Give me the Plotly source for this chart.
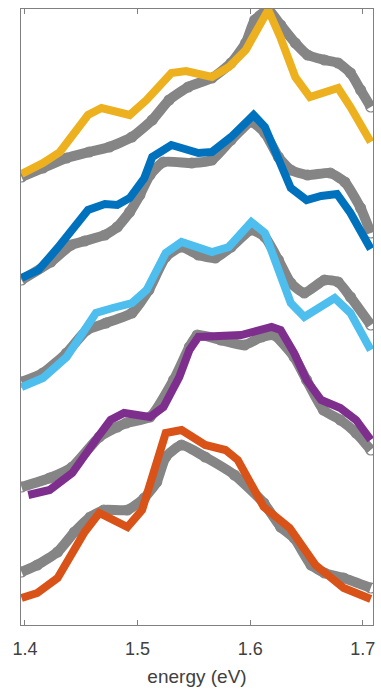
import plotly.graph_objects as go

# ---- data (energy in eV, intensity in arbitrary units incl. vertical offsets) ----
E_fit1 = [1.397,1.416,1.431,1.456,1.468,1.493,1.508,1.530,1.543,1.566,1.581,1.596,1.616,1.627,1.640,1.653,1.678,1.689,1.707]
I_fit1 = [4.51,4.62,4.73,5.10,5.17,5.10,5.25,5.52,5.54,5.48,5.58,5.75,6.15,5.87,5.48,5.28,5.37,5.18,4.83]
E_dat1 = [1.397,1.416,1.437,1.457,1.475,1.495,1.513,1.528,1.545,1.566,1.583,1.596,1.604,1.616,1.627,1.640,1.651,1.666,1.678,1.689,1.698,1.707]
I_dat1 = [4.48,4.57,4.67,4.73,4.78,4.88,5.05,5.25,5.38,5.47,5.62,5.82,6.05,6.15,6.00,5.82,5.70,5.65,5.62,5.52,5.35,5.18]

E_fit2 = [1.397,1.412,1.429,1.456,1.471,1.482,1.493,1.506,1.513,1.530,1.554,1.566,1.583,1.603,1.613,1.625,1.636,1.650,1.663,1.677,1.689,1.707]
I_fit2 = [3.47,3.55,3.77,4.15,4.21,4.20,4.27,4.47,4.68,4.80,4.72,4.73,4.88,5.10,4.98,4.65,4.37,4.25,4.29,4.31,4.12,3.76]
E_dat2 = [1.397,1.423,1.441,1.453,1.471,1.482,1.493,1.502,1.511,1.523,1.548,1.566,1.583,1.601,1.613,1.625,1.636,1.651,1.671,1.684,1.698,1.707]
I_dat2 = [3.45,3.63,3.80,3.84,3.90,3.98,4.13,4.30,4.50,4.63,4.62,4.65,4.85,5.03,4.92,4.68,4.55,4.50,4.52,4.43,4.17,3.92]

E_fit3 = [1.397,1.416,1.437,1.463,1.478,1.495,1.508,1.525,1.539,1.566,1.581,1.601,1.613,1.625,1.636,1.648,1.675,1.689,1.707]
I_fit3 = [2.38,2.47,2.68,3.12,3.17,3.22,3.35,3.72,3.83,3.73,3.78,4.03,3.92,3.55,3.22,3.08,3.27,3.12,2.75]
E_dat3 = [1.397,1.416,1.437,1.455,1.472,1.495,1.510,1.525,1.539,1.554,1.569,1.583,1.601,1.613,1.625,1.636,1.648,1.666,1.678,1.689,1.707]
I_dat3 = [2.43,2.52,2.72,2.95,3.02,3.12,3.35,3.68,3.78,3.70,3.67,3.78,3.95,3.88,3.65,3.42,3.32,3.45,3.43,3.28,3.00]

E_fit4 = [1.403,1.422,1.442,1.453,1.466,1.476,1.488,1.511,1.523,1.537,1.546,1.554,1.566,1.592,1.619,1.627,1.639,1.650,1.663,1.680,1.694,1.707]
I_fit4 = [1.30,1.35,1.52,1.68,1.90,2.05,2.12,2.08,2.18,2.48,2.75,2.88,2.88,2.90,2.98,2.95,2.72,2.45,2.25,2.17,2.05,1.85]
E_dat4 = [1.397,1.422,1.442,1.466,1.482,1.490,1.511,1.532,1.546,1.553,1.574,1.595,1.610,1.621,1.639,1.650,1.665,1.680,1.694,1.707]
I_dat4 = [1.38,1.47,1.58,1.88,1.98,2.02,2.08,2.45,2.78,2.90,2.85,2.80,2.88,2.90,2.68,2.45,2.15,2.05,1.92,1.75]

E_fit5 = [1.397,1.411,1.429,1.453,1.466,1.491,1.504,1.517,1.525,1.539,1.560,1.578,1.589,1.612,1.635,1.658,1.683,1.707]
I_fit5 = [0.27,0.32,0.47,0.93,1.12,0.98,1.15,1.60,1.92,1.95,1.80,1.75,1.65,1.18,0.97,0.60,0.37,0.26]
E_dat5 = [1.397,1.411,1.429,1.444,1.458,1.470,1.491,1.506,1.517,1.525,1.539,1.560,1.586,1.612,1.627,1.639,1.654,1.666,1.683,1.707]
I_dat5 = [0.53,0.60,0.73,0.93,1.08,1.15,1.15,1.27,1.43,1.68,1.80,1.68,1.50,1.22,0.98,0.87,0.60,0.52,0.47,0.37]

fit_colors = ["#EDB120", "#0072BD", "#4DBEEE", "#7E2F8E", "#D95319"]
x_ticks = [1.4, 1.5, 1.6, 1.7]

data_sets = [(E_dat1, I_dat1), (E_dat2, I_dat2), (E_dat3, I_dat3), (E_dat4, I_dat4), (E_dat5, I_dat5)]
fit_sets = [(E_fit1, I_fit1), (E_fit2, I_fit2), (E_fit3, I_fit3), (E_fit4, I_fit4), (E_fit5, I_fit5)]

fig = go.Figure()
for ex, iy in data_sets:
    fig.add_trace(go.Scatter(
        x=ex, y=iy, mode="lines+markers",
        line=dict(color="#858585", width=10, shape="spline", smoothing=0.5),
        marker=dict(symbol="circle-open", size=10, color="#858585", line=dict(width=1.2)),
        showlegend=False, hoverinfo="skip"))
for (ex, iy), c in zip(fit_sets, fit_colors):
    fig.add_trace(go.Scatter(
        x=ex, y=iy, mode="lines",
        line=dict(color=c, width=8),
        showlegend=False, hoverinfo="skip"))

fig.update_layout(
    width=381, height=700,
    margin=dict(l=21, r=6, t=9, b=75),
    paper_bgcolor="white", plot_bgcolor="white",
    font=dict(family="Liberation Sans, Arial, sans-serif", color="#404040"),
    xaxis=dict(range=[1.3965, 1.709], tickvals=x_ticks, ticktext=[f"{v:.1f}" for v in x_ticks],
               ticks="inside", ticklen=5, tickcolor="#808080", tickwidth=1,
               showline=True, linecolor="#808080", linewidth=1.2, mirror="ticks",
               showgrid=False, zeroline=False, ticklabelstandoff=7,
               tickfont=dict(size=18, color="#404040"),
               title=dict(text="energy (eV)", font=dict(size=19, color="#404040"), standoff=11)),
    yaxis=dict(range=[0, 6.16], showticklabels=False, ticks="",
               showline=True, linecolor="#808080", linewidth=1.2, mirror=True,
               showgrid=False, zeroline=False),
)

fig.write_html("out.html")
